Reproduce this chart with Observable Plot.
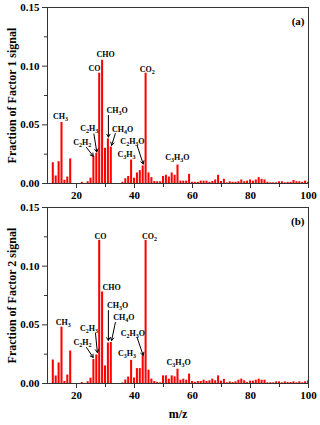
<!DOCTYPE html>
<html><head><meta charset="utf-8">
<script src="https://cdn.jsdelivr.net/npm/d3@7"></script>
<script src="https://cdn.jsdelivr.net/npm/@observablehq/plot@0.6"></script>
<style>body{margin:0;background:#fff} #chart svg{display:block;font-family:"Liberation Serif",serif}</style>
</head><body><div id="chart"></div>
<script>
const mz = [12,13,14,15,16,17,18,19,20,21,22,23,24,25,26,27,28,29,30,31,32,33,34,35,36,37,38,39,40,41,42,43,44,45,46,47,48,49,50,51,52,53,54,55,56,57,58,59,60,61,62,63,64,65,66,67,68,69,70,71,72,73,74,75,76,77,78,79,80,81,82,83,84,85,86,87,88,89,90,91,92,93,94,95,96,97,98,99,100];

const factor1 = [0.0177,0.0064,0.0186,0.052,0.0027,0.0055,0.021,0,0,0,0.001,0,0.0015,0.0045,0.023,0.0257,0.094,0.105,0.030,0.038,0.031,0,0,0,0.001,0.004,0.006,0.020,0.0045,0.009,0.011,0.015,0.094,0.009,0.005,0.0017,0.0015,0.0015,0.006,0.007,0.0055,0.009,0.007,0.0157,0.002,0.002,0.002,0.0078,0.001,0.001,0.001,0.002,0.002,0.002,0.001,0.0017,0.003,0.007,0.0017,0.0036,0.0005,0.0015,0.001,0.001,0.0015,0.003,0.0015,0.002,0.003,0.002,0.003,0.005,0.0035,0.003,0.001,0.0006,0.0006,0.0006,0.0015,0.0015,0.0006,0.001,0.001,0.0025,0.0015,0.0015,0.001,0.002,0.001];

const factor2 = [0.020,0.0064,0.0175,0.048,0.0018,0.0072,0.0277,0,0,0,0.0008,0,0.0015,0.0045,0.0205,0.0243,0.122,0.078,0.015,0.0345,0.035,0,0,0,0.0005,0.003,0.0055,0.0197,0.0047,0.0127,0.0127,0.0235,0.122,0.0114,0.0037,0.0017,0.001,0.0006,0.0065,0.0065,0.0037,0.0065,0.0057,0.0122,0.0028,0.0037,0.0028,0.008,0.0017,0.001,0.0017,0.0017,0.0028,0.0017,0.0023,0.0037,0.0023,0.0065,0.002,0.0035,0.0006,0.0014,0.0008,0.0014,0.0028,0.0037,0.0023,0.0008,0.002,0.002,0.0028,0.0037,0.0028,0.0028,0.0006,0.0006,0.0006,0.0014,0.0014,0.0006,0.0014,0.0008,0.0008,0.0014,0.0006,0.0014,0.0006,0.0014,0.0023];

const xTicks = [20,40,60,80,100];
const xMinorTicks = [30,50,70,90];
const yTicks = [0,0.05,0.10,0.15];
const yMinorTicks = [0.025,0.075,0.125];

const labels1 = [
  {t:"CH_3", x:14.5, y:0.057},
  {t:"CO", x:26.2, y:0.098},
  {t:"CHO", x:30.0, y:0.110},
  {t:"CO_2", x:44.4, y:0.097},
  {t:"CH_3O", x:34.0, y:0.062},
  {t:"CH_4O", x:35.9, y:0.0464},
  {t:"C_2H_3", x:24.4, y:0.047},
  {t:"C_2H_2", x:22.0, y:0.035},
  {t:"C_2H_3O", x:39.3, y:0.0358},
  {t:"C_3H_3", x:37.2, y:0.0247},
  {t:"C_3H_3O", x:54.8, y:0.0224}
];
const arrows1 = [
  {x1:31, y1:0.058, x2:31, y2:0.0395},
  {x1:33.4, y1:0.0426, x2:32.1, y2:0.0325},
  {x1:26.0, y1:0.0422, x2:27.0, y2:0.0268},
  {x1:23.45, y1:0.0307, x2:25.8, y2:0.0232},
  {x1:40.9, y1:0.0324, x2:43.0, y2:0.0166}
];
const labels2 = [
  {t:"CH_3", x:15.4, y:0.0522},
  {t:"CO", x:28.3, y:0.1255},
  {t:"CHO", x:32.1, y:0.0821},
  {t:"CO_2", x:45.2, y:0.1255},
  {t:"CH_3O", x:34.2, y:0.0665},
  {t:"CH_4O", x:36.3, y:0.056},
  {t:"C_2H_3", x:24.3, y:0.0466},
  {t:"C_2H_2", x:22.1, y:0.0352},
  {t:"C_2H_3O", x:39.4, y:0.0424},
  {t:"C_3H_3", x:37.4, y:0.0253},
  {t:"C_3H_3O", x:55.2, y:0.0182}
];
const arrows2 = [
  {x1:31, y1:0.0622, x2:31, y2:0.0366},
  {x1:33.4, y1:0.052, x2:32.1, y2:0.0366},
  {x1:26.55, y1:0.0426, x2:27.2, y2:0.0264},
  {x1:23.45, y1:0.0307, x2:25.76, y2:0.0222},
  {x1:40.9, y1:0.0392, x2:43.0, y2:0.0239}
];

const font = "Liberation Serif, serif";

function panel(values, yLabel, tag, labels, arrows, last) {
  const data = mz.map((m, i) => ({mz: m, v: values[i]}));
  const marks = [
    Plot.rectY(data, {x1: d => d.mz - 0.35, x2: d => d.mz + 0.35, y1: 0, y2: "v", fill: "#ff0000"}),
    Plot.axisX(xTicks, {tickSize: 5, tickPadding: 3, label: null, stroke: "#333"}),
    Plot.axisX(xMinorTicks, {tickSize: 4, tickFormat: () => "", label: null, stroke: "#333"}),
    Plot.axisY(yTicks, {tickSize: 5, tickPadding: 3, tickFormat: ".2f", label: null, stroke: "#333"}),
    Plot.axisY(yMinorTicks, {tickSize: 3, tickFormat: () => "", label: null, stroke: "#333"}),
    Plot.frame({stroke: "#333", strokeWidth: 1}),
    Plot.text([yLabel], {frameAnchor: "left", textAnchor: "middle", lineAnchor: "middle", rotate: -90, dx: -35, fontSize: 12, text: d => d}),
    Plot.text([tag], {frameAnchor: "top-right", textAnchor: "end", dx: -4, dy: 10, fontSize: 11, text: d => d}),
    Plot.arrow(arrows, {x1: "x1", y1: "y1", x2: "x2", y2: "y2", stroke: "#000", strokeWidth: 1, headLength: 5}),
    Plot.text(labels, {x: "x", y: "y", text: "t", textAnchor: "middle", fontSize: 8})
  ];
  if (last) marks.push(Plot.text(["m/z"], {frameAnchor: "bottom", textAnchor: "middle", dy: 34, fontSize: 12, text: d => d}));
  const plot = Plot.plot({
    width: 320, height: last ? 225 : 200,
    marginLeft: 47, marginRight: 12, marginTop: 7, marginBottom: last ? 42 : 17,
    style: {fontFamily: font, fontSize: "11px", fontWeight: "bold", color: "#000", background: "#fff"},
    x: {domain: [10, 100]},
    y: {domain: [0, 0.15]},
    marks
  });
  d3.select(plot).selectAll("text").filter(function() { return /_\d/.test(this.textContent); }).each(function() {
    const s = this.textContent;
    const el = d3.select(this);
    el.text("");
    const parts = s.split(/_(\d)/);
    let shifted = false;
    parts.forEach((p, i) => {
      if (!p) return;
      if (i % 2 === 1) {
        el.append("tspan").attr("font-size", 6).attr("dy", shifted ? 0 : 2).text(p);
        shifted = true;
      } else {
        el.append("tspan").attr("dy", shifted ? -2 : 0).text(p);
        shifted = false;
      }
    });
  });
  return plot;
}

const chart = document.getElementById("chart");
chart.appendChild(panel(factor1, "Fraction of Factor 1 signal", "(a)", labels1, arrows1, false));
chart.appendChild(panel(factor2, "Fraction of Factor 2 signal", "(b)", labels2, arrows2, true));
</script>
</body></html>
